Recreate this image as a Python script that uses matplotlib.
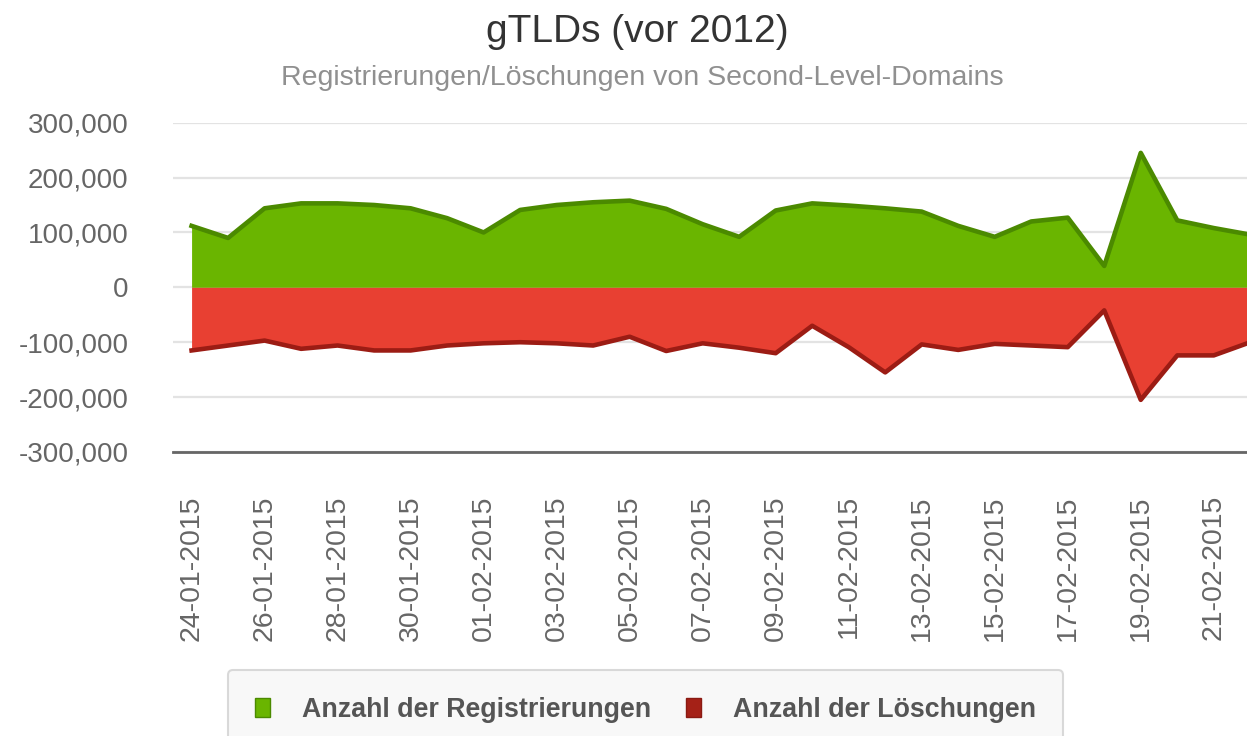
import numpy as np
import pandas as pd
import matplotlib
matplotlib.use("Agg")
import matplotlib.pyplot as plt
from matplotlib.patches import Patch
from matplotlib.ticker import FuncFormatter, FixedLocator

plt.rcParams['font.family'] = ['Liberation Sans', 'DejaVu Sans']

# Daten: 24-01-2015 bis 22-02-2015, ein Wert pro Tag
tage = pd.date_range("2015-01-24", "2015-02-22", freq="D").strftime("%d-%m-%Y").tolist()

registrierungen = [112000, 90000, 144000, 153000, 153000, 150000, 144000, 126000,
                   100000, 141000, 150000, 155000, 158000, 143000, 115000, 92000,
                   140000, 153000, 149000, 144000, 138000, 112000, 92000, 120000,
                   127000, 39000, 245000, 122000, 108000, 96000]

loeschungen = [-115000, -106000, -97000, -112000, -106000, -115000, -115000, -106000,
               -102000, -100000, -102000, -106000, -90000, -116000, -102000, -110000,
               -120000, -70000, -109000, -155000, -104000, -114000, -103000, -106000,
               -109000, -42000, -205000, -124000, -124000, -100000]

gruen, gruen_rand = '#6ab500', '#4b8a00'
rot, rot_rand = '#e84032', '#9c1c14'

fig = plt.figure(figsize=(12.47, 7.36), dpi=100)
ax = fig.add_axes([0.1387, 0.3859, 0.8613, 0.4474])

x = np.arange(len(tage))
ax.fill_between(x, 0, registrierungen, color=gruen, lw=0, zorder=2)
ax.plot(x, registrierungen, color=gruen_rand, lw=3.3, solid_joinstyle='round', zorder=3)
ax.fill_between(x, loeschungen, 0, color=rot, lw=0, zorder=2)
ax.plot(x, loeschungen, color=rot_rand, lw=3.3, solid_joinstyle='round', zorder=3)

ax.set_xlim(-0.51, 28.91)
ax.set_ylim(-300000, 300000)
ax.set_yticks(np.arange(-300000, 300001, 100000))
ax.yaxis.set_major_formatter(FuncFormatter(lambda v, p: f"{int(v):,}"))
ax.xaxis.set_major_locator(FixedLocator(x[::2]))
ax.set_xticklabels(tage[::2], rotation=90, ha='center', va='top')

ax.grid(axis='y', color='#e3e3e3', lw=1.6, zorder=0)
ax.set_axisbelow(True)
for s in ['top', 'left', 'right']:
    ax.spines[s].set_visible(False)
ax.spines['bottom'].set_color('#666666')
ax.spines['bottom'].set_linewidth(2)
ax.spines['bottom'].set_zorder(4)
ax.tick_params(axis='y', length=0, pad=32, labelsize=20, labelcolor='#666666')
ax.tick_params(axis='x', length=0, pad=31, labelsize=20.5, labelcolor='#666666')

# Titel
fig.text(0.511, 0.943, 'gTLDs (vor 2012)', ha='center', va='baseline',
         fontsize=28, color='#333333')
fig.text(0.515, 0.884, 'Registrierungen/Löschungen von Second-Level-Domains',
         ha='center', va='baseline', fontsize=20.5, color='#909090')

# Legende
handles = [Patch(facecolor=gruen, edgecolor=gruen_rand, label='Anzahl der Registrierungen'),
           Patch(facecolor='#a52117', edgecolor='#8a1a12', label='Anzahl der Löschungen')]
leg = fig.legend(handles=handles, loc='upper left', bbox_to_anchor=(228 / 1247, 1 - 670 / 736),
                 ncol=2, frameon=True, fancybox=True, borderaxespad=0,
                 prop={'size': 19.3, 'weight': 'bold'}, handlelength=0.56, handleheight=0.7,
                 handletextpad=1.2, columnspacing=1.3, borderpad=1.0)
leg.get_frame().set_facecolor('#f7f7f7')
leg.get_frame().set_edgecolor('#d0d0d0')
leg.get_frame().set_linewidth(1.5)
for t in leg.get_texts():
    t.set_color('#555555')

fig.savefig('out.png', dpi=100)
